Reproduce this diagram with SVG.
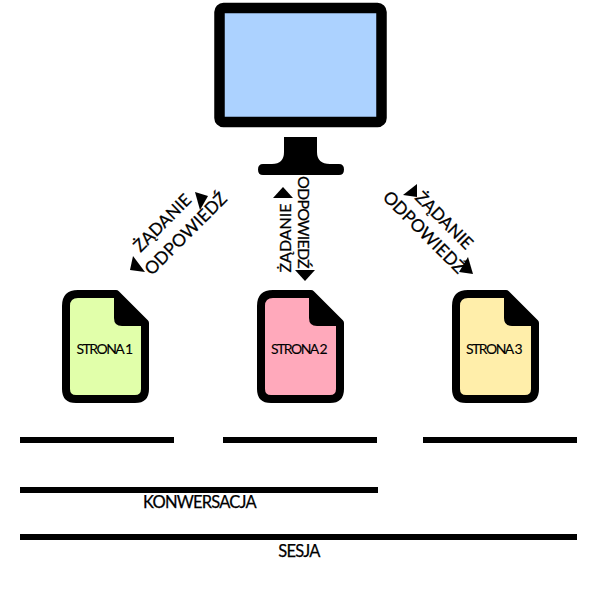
<svg xmlns="http://www.w3.org/2000/svg" width="600" height="600" viewBox="0 0 600 600">
<style>
.t{font-family:Lato,"Noto Sans",sans-serif;fill:#000;text-anchor:middle;stroke:#000;stroke-width:.25}
.z{font-size:17px}
.d{font-size:17.500px}
.y{font-size:16px}
.v{font-size:16px;letter-spacing:-.8px}
.p{font-size:14px;letter-spacing:-1.500px;stroke-width:.1}
.b{font-size:16.500px;letter-spacing:-.8px}
.o{stroke:#000;stroke-width:8;stroke-linejoin:round}
.bar{fill:#000}
</style>
<g id="monitor">
<rect x="219.500" y="8" width="162" height="114" rx="4" fill="#acd2ff" stroke="#000" stroke-width="10.500"/>
<path d="M284 137H317V152Q317 164 330 164H339Q344 164 344 169.500T339 175H263Q258 175 258 169.500T263 164H272Q284 164 284 152Z" fill="#000"/>
</g>
<g id="strona1">
<path d="M78 294H116L145 323V389Q145 399 135 399H76Q66 399 66 389V306Q66 294 78 294Z" fill="#e1ffaa" class="o"/>
<path d="M113 294L145 326H122Q114 326 114 318V294Z" fill="#000"/>
<text class="t p" x="104" y="354">STRONA 1</text>
</g>
<g id="strona2">
<path d="M273 294H311L340 323V389Q340 399 330 399H271Q261 399 261 389V306Q261 294 273 294Z" fill="#ffa9bb" class="o"/>
<path d="M308 294L340 326H317Q309 326 309 318V294Z" fill="#000"/>
<text class="t p" x="298.500" y="354">STRONA 2</text>
</g>
<g id="strona3">
<path d="M468 294H506L535 323V389Q535 399 525 399H466Q456 399 456 389V306Q456 294 468 294Z" fill="#ffeeaa" class="o"/>
<path d="M503 294L535 326H512Q504 326 504 318V294Z" fill="#000"/>
<text class="t p" x="493.500" y="354">STRONA 3</text>
</g>
<g id="connectors">
<path d="M195 192L208 196L200 210Z" fill="#000"/>
<path d="M133 256L130 270L145 272Z" fill="#000"/>
<path d="M283 187L293 198H273Z" fill="#000"/>
<path d="M305 281L315 270H295Z" fill="#000"/>
<path d="M403 195L417 184L417 197Z" fill="#000"/>
<path d="M473 274L459 272L468 257Z" fill="#000"/>
<text class="t z" transform="translate(166.500 227) rotate(-45)">ŻĄDANIE</text>
<text class="t d" transform="translate(190 238) rotate(-45)">ODPOWIEDŹ</text>
<text class="t y" transform="translate(291 238) rotate(-90)">ŻĄDANIE</text>
<text class="t v" transform="translate(298 222) rotate(90)">ODPOWIEDŹ</text>
<text class="t z" transform="translate(440 224.500) rotate(45)">ŻĄDANIE</text>
<text class="t d" transform="translate(420 236.500) rotate(45)">ODPOWIEDŹ</text>
</g>
<g id="timeline">
<rect class="bar" x="20" y="437" width="154" height="6"/>
<rect class="bar" x="223" y="437" width="154" height="6"/>
<rect class="bar" x="423" y="437" width="154" height="6"/>
<rect class="bar" x="20" y="487" width="358" height="6"/>
<rect class="bar" x="20" y="534" width="557" height="6"/>
<text class="t b" x="199.500" y="508">KONWERSACJA</text>
<text class="t b" x="299" y="556.500">SESJA</text>
</g>
</svg>
